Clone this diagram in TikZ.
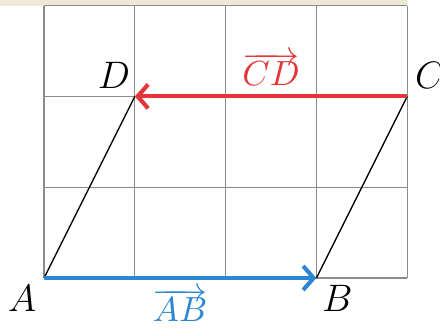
\documentclass[tikz,border=0pt]{standalone}
\usetikzlibrary{arrows.meta,positioning}
\definecolor{vecblue}{HTML}{2B87D3}
\definecolor{vecred}{HTML}{E2363A}
\definecolor{gridgray}{HTML}{8C8C8C}
\definecolor{pagebg}{HTML}{F0E8D6}
\tikzset{
  % quadrettatura
  grille/.style={draw=gridgray, line width=0.4pt},
  % lati del parallelogramma
  side/.style={line width=0.4pt, black},
  % vettori
  vec/.style={-{Straight Barb[length=3.3pt,width=7.5pt]}, line width=1.3pt},
  % etichette dei punti
  pt/.style={font=\large, inner sep=1pt},
  veclbl/.style={font=\fontsize{11}{13}\selectfont, inner sep=1pt},
}
\begin{document}
\begin{tikzpicture}
  \useasboundingbox (-0.485,-0.595) rectangle (4.361,3.062);
  \fill[pagebg] (-0.485,3) rectangle (4,3.062);
  \draw[grille] (0,0) grid (4,3);
  \coordinate (A) at (0,0);
  \coordinate (B) at (3,0);
  \coordinate (C) at (4,2);
  \coordinate (D) at (1,2);
  \draw[side] (A) -- (D);
  \draw[side] (B) -- (C);
  \draw[vec, vecblue] (A) -- (B);
  \draw[vec, vecred] (C) -- (D);
  \node[pt] (lA) at (-0.24,-0.22) {$A$};
  \node[pt] (lB) at (3.23,-0.22) {$B$};
  \node[pt] (lC) at (4.25,2.23) {$C$};
  \node[pt] (lD) at (0.77,2.23) {$D$};
  \node[veclbl, text=vecblue] (lAB) at (1.5,-0.3) {$\overrightarrow{AB}$};
  \node[veclbl, text=vecred] (lCD) at (2.5,2.3) {$\overrightarrow{CD}$};
\end{tikzpicture}
\end{document}
